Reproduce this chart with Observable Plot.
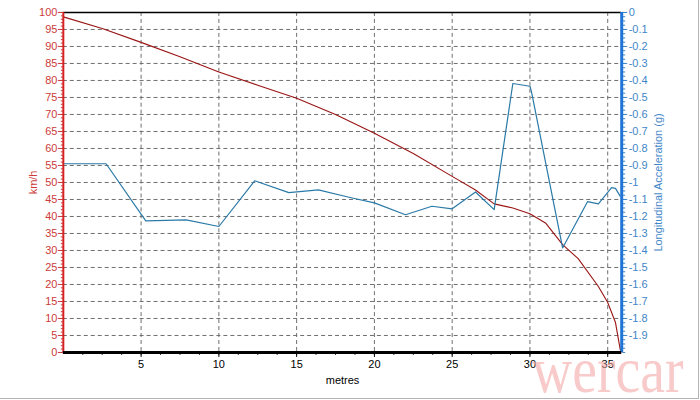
<!DOCTYPE html>
<html><head><meta charset="utf-8">
<script src="https://cdn.jsdelivr.net/npm/d3@7"></script>
<script src="https://cdn.jsdelivr.net/npm/@observablehq/plot@0.6"></script>
<style>
html,body{margin:0;padding:0;background:#fff;}
#chart{width:698px;height:398px;border-right:1px solid #b4b4b4;border-bottom:1px solid #b4b4b4;overflow:hidden;}
#chart svg{display:block;}
</style></head><body><div id="chart"></div>
<script>
// Speed trace (distance in metres, speed in km/h)
const speedDist = [0, 2.5, 5, 7.5, 10, 12.5, 15, 17.5, 20, 22.5, 25, 26.5, 27.7, 28.9, 30, 31, 32.1, 33.1, 34.4, 35, 35.5, 35.8, 35.85];
const speedKmh  = [98.7, 95.3, 91.2, 87, 82.5, 78.6, 74.8, 70, 64.5, 58.5, 51.8, 47.8, 43.7, 42.5, 40.8, 38.1, 31.7, 27.6, 19.4, 14.7, 8.8, 1, 0];
// Longitudinal acceleration trace (distance in metres, g)
const accelDist = [0, 2.75, 5.3, 7.9, 10, 12.3, 14.5, 16.4, 18.5, 20, 22, 23.7, 25, 26.5, 27.7, 28.9, 30, 30.1, 32.1, 33.7, 34.4, 35.25, 35.5, 35.8];
const accelG    = [-0.89, -0.89, -1.226, -1.22, -1.259, -0.99, -1.06, -1.044, -1.09, -1.12, -1.19, -1.14, -1.155, -1.056, -1.16, -0.418, -0.434, -0.467, -1.385, -1.113, -1.126, -1.03, -1.035, -1.08];
// Axis ticks / labels
const xTicks = [5, 10, 15, 20, 25, 30, 35];
const kmhTicks = [0,5,10,15,20,25,30,35,40,45,50,55,60,65,70,75,80,85,90,95,100];
const gTicks = [0,-0.1,-0.2,-0.3,-0.4,-0.5,-0.6,-0.7,-0.8,-0.9,-1,-1.1,-1.2,-1.3,-1.4,-1.5,-1.6,-1.7,-1.8,-1.9];
const xMax = 35.9;
const gMin = -2;

const speed = speedDist.map((d, i) => ({m: d, v: speedKmh[i]}));
const gToY = g => (g - gMin) * 50; // map g range [-2,0] onto km/h range [0,100]
const accel = accelDist.map((d, i) => ({m: d, v: gToY(accelG[i])}));

const RED = "#cc3b3b", RED_LINE = "#9a1414", BLUE = "#3f86c8", BLUE_LINE = "#2a7aa8";
const blank = () => "";

const chart = Plot.plot({
  width: 700, height: 400,
  marginLeft: 63, marginRight: 77, marginTop: 12, marginBottom: 47,
  style: {fontFamily: "'Liberation Sans', Arial, sans-serif", fontSize: "11px", background: "#fff"},
  x: {domain: [0, xMax]},
  y: {domain: [0, 100]},
  marks: [
    Plot.gridY(kmhTicks.filter(d => d > 0 && d < 100), {stroke: "#6e6e6e", strokeOpacity: 1, strokeDasharray: "4,3"}),
    Plot.gridX(xTicks, {stroke: "#6e6e6e", strokeOpacity: 1, strokeDasharray: "4,3"}),
    Plot.ruleY([100], {stroke: "#000", strokeWidth: 1.6}),
    Plot.line(speed, {x: "m", y: "v", stroke: RED_LINE, strokeWidth: 1.1}),
    Plot.line(accel, {x: "m", y: "v", stroke: BLUE_LINE, strokeWidth: 1.2}),
    // left axis (km/h)
    Plot.axisY(d3.range(0, 100.01, 1), {anchor: "left", tickSize: 2, tickFormat: blank, color: RED, label: null}),
    Plot.axisY(kmhTicks, {anchor: "left", tickSize: 5, tickPadding: 1, color: RED, label: "km/h", labelAnchor: "center", labelOffset: 34, labelArrow: "none"}),
    // right axis (g)
    Plot.axisY(d3.range(0, 100.01, 1.25), {anchor: "right", tickSize: 3, tickFormat: blank, color: BLUE, label: null}),
    Plot.axisY(gTicks.map(gToY), {anchor: "right", tickSize: 5, tickPadding: 2, color: BLUE, tickFormat: (d, i) => String(gTicks[i]), label: "Longitudinal Acceleration (g)", labelAnchor: "center", labelOffset: 40, labelArrow: "none"}),
    // x axis
    Plot.axisX(d3.range(1.25, xMax, 1.25), {anchor: "bottom", tickSize: 3, tickFormat: blank, label: null, stroke: "#333"}),
    Plot.axisX(xTicks, {anchor: "bottom", tickSize: 5, tickPadding: 3, label: "metres", labelAnchor: "center", labelOffset: 32, labelArrow: "none", color: "#000"}),
    Plot.ruleX([0], {stroke: "#d42222", strokeWidth: 2}),
    Plot.ruleX([xMax], {stroke: "#1f74d6", strokeWidth: 3}),
    Plot.ruleY([0], {stroke: "#000", strokeWidth: 3}),
    Plot.text(["wercar"], {frameAnchor: "bottom-right", dx: -90, dy: 40, textAnchor: "start", lineAnchor: "bottom", fontFamily: "'Liberation Serif', 'Times New Roman', serif", fontSize: 66, fill: "#f4a6a6", fillOpacity: 0.6, className: "wm"})
  ]
});
document.getElementById("chart").appendChild(chart);
d3.select(chart).selectAll(".wm text").attr("textLength", 152).attr("lengthAdjust", "spacingAndGlyphs");
</script></body></html>
